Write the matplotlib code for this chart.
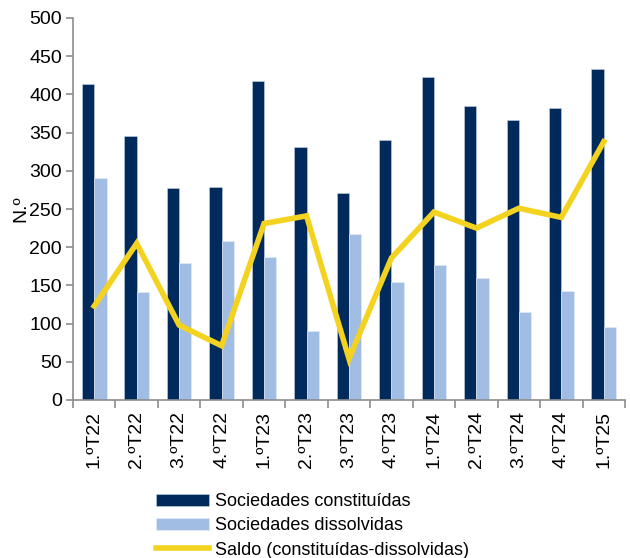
import numpy as np
import matplotlib.pyplot as plt

plt.rcParams['font.family'] = ['Liberation Sans', 'DejaVu Sans']

quarters = ['1.ºT22', '2.ºT22', '3.ºT22', '4.ºT22',
            '1.ºT23', '2.ºT23', '3.ºT23', '4.ºT23',
            '1.ºT24', '2.ºT24', '3.ºT24', '4.ºT24',
            '1.ºT25']
constituidas = [414, 346, 277, 279, 418, 331, 271, 340, 423, 385, 366, 382, 433]
dissolvidas = [291, 141, 179, 208, 187, 90, 217, 154, 177, 160, 115, 143, 95]
saldo = [123, 205, 98, 71, 231, 241, 54, 186, 246, 225, 251, 239, 338]

dark = '#002a5c'
light = '#a1bde3'
yellow = '#f4d320'
axis_grey = '#8c8c8c'

fig = plt.figure(figsize=(6.3, 5.58), dpi=100)
ax = fig.add_axes([73 / 630, 1 - 400 / 558, 552 / 630, 382 / 558])

x = np.arange(len(quarters))
w = 0.29
b1 = ax.bar(x - w / 2, constituidas, w, color=dark, edgecolor='#c8d2e0', linewidth=0.4,
            label='Sociedades constituídas', zorder=2)
b2 = ax.bar(x + w / 2, dissolvidas, w, color=light, edgecolor='#e6eef8', linewidth=0.4,
            label='Sociedades dissolvidas', zorder=2)
l1, = ax.plot(x, saldo, color=yellow, linewidth=4, solid_joinstyle='miter',
              label='Saldo (constituídas-dissolvidas)', zorder=3)

ax.set_xlim(-0.5, len(quarters) - 0.5)
ax.set_ylim(0, 500)
ax.set_yticks(range(0, 501, 50))
ax.tick_params(axis='y', labelsize=14, color=axis_grey, length=5, width=1.2, pad=3)

ax.set_xticks(x)
ax.set_xticklabels(quarters, rotation=90, fontsize=14)
ax.tick_params(axis='x', length=0, pad=8)
ax.set_xticks(np.arange(-0.5, len(quarters)), minor=True)
ax.tick_params(axis='x', which='minor', length=6, color=axis_grey, width=1.2)

for side in ['top', 'right']:
    ax.spines[side].set_visible(False)
for side in ['left', 'bottom']:
    ax.spines[side].set_color(axis_grey)
    ax.spines[side].set_linewidth(1.2)

ax.set_ylabel('N.º', fontsize=14, labelpad=0)

fig.legend(handles=[b1, b2, l1], loc='upper left', bbox_to_anchor=(149 / 630, 1 - 486 / 558),
           frameon=False, fontsize=13, handlelength=2.9, handleheight=0.7,
           handletextpad=0.35, labelspacing=0.4, borderaxespad=0)

fig.savefig('out.png', dpi=100)
